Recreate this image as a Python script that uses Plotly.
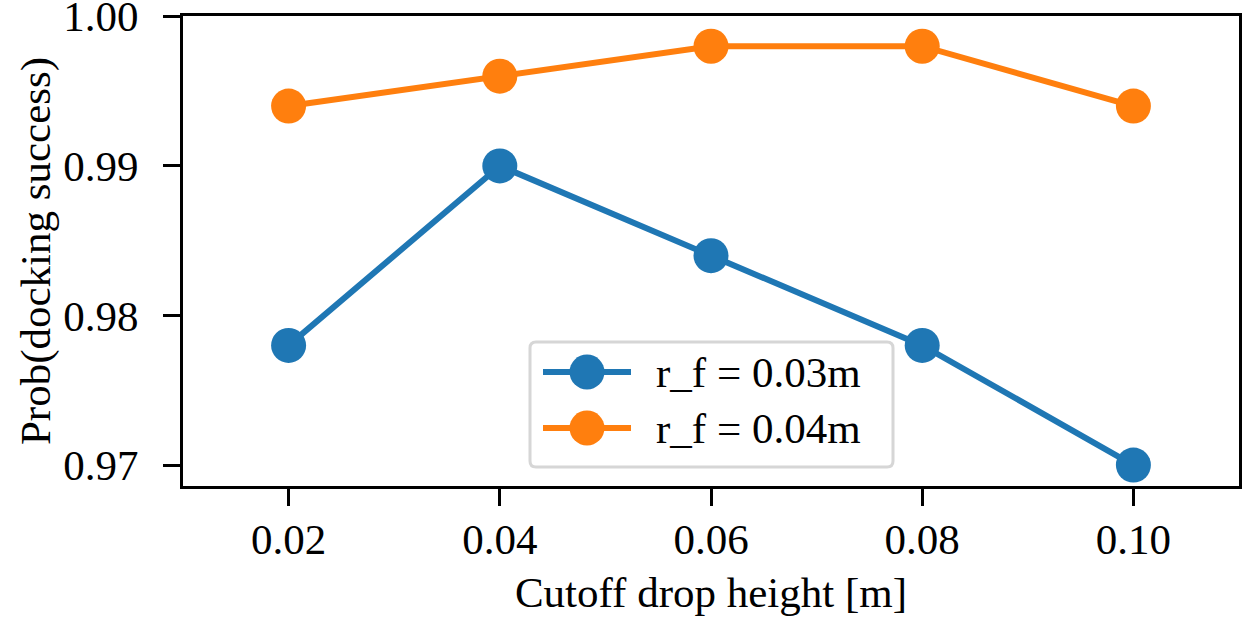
import plotly.graph_objects as go

cutoff = [0.02, 0.04, 0.06, 0.08, 0.10]
rf_003 = [0.978, 0.990, 0.984, 0.978, 0.970]
rf_004 = [0.994, 0.996, 0.998, 0.998, 0.994]
series_names = ["r_f = 0.03m", "r_f = 0.04m"]
series_colors = ["#1f77b4", "#ff7f0e"]
x_ticks = [0.02, 0.04, 0.06, 0.08, 0.10]
x_ticktext = ["0.02", "0.04", "0.06", "0.08", "0.10"]
y_ticks = [0.97, 0.98, 0.99, 1.00]
y_ticktext = ["0.97", "0.98", "0.99", "1.00"]

FONT = "Liberation Serif"
FS = 43
W, H = 1246, 620
# plot area in page pixels: x 183..1239, y 16..486
ML, MT = 183, 16
MR = W - 1239
MB = H - 486
PW, PH = W - ML - MR, H - MT - MB


def px(x):
    return (x - ML) / PW


def py(y):
    return (H - MB - y) / PH


fig = go.Figure()
for y, name, color in zip([rf_003, rf_004], series_names, series_colors):
    fig.add_trace(go.Scatter(
        x=cutoff, y=y, name=name, mode="lines+markers",
        line=dict(color=color, width=6),
        marker=dict(color=color, size=35),
        showlegend=False,
    ))

axis_common = dict(
    showline=True, linecolor="black", linewidth=3, mirror=True,
    ticks="outside", ticklen=17, tickwidth=3, tickcolor="black",
    showgrid=False, zeroline=False, automargin=False,
    ticklabeloverflow="allow",
    tickfont=dict(family=FONT, size=FS, color="black"),
)

shapes = []
annotations = []
bx0, bx1, by0, by1, r = 530, 893, 342, 467, 6
path = (f"M{px(bx0 + r)},{py(by0)} L{px(bx1 - r)},{py(by0)} "
        f"Q{px(bx1)},{py(by0)} {px(bx1)},{py(by0 + r)} "
        f"L{px(bx1)},{py(by1 - r)} Q{px(bx1)},{py(by1)} {px(bx1 - r)},{py(by1)} "
        f"L{px(bx0 + r)},{py(by1)} Q{px(bx0)},{py(by1)} {px(bx0)},{py(by1 - r)} "
        f"L{px(bx0)},{py(by0 + r)} Q{px(bx0)},{py(by0)} {px(bx0 + r)},{py(by0)} Z")
shapes.append(dict(type="path", xref="paper", yref="paper", path=path,
                   fillcolor="rgba(255,255,255,0.85)", line=dict(color="#d6d6d6", width=3),
                   layer="above"))
for i, (name, color) in enumerate(zip(series_names, series_colors)):
    yc = 372 + 56 * i
    shapes.append(dict(type="line", xref="paper", yref="paper",
                       x0=px(543), x1=px(631), y0=py(yc), y1=py(yc),
                       line=dict(color=color, width=6), layer="above"))
    shapes.append(dict(type="circle", xref="paper", yref="paper",
                       x0=px(587 - 17.5), x1=px(587 + 17.5),
                       y0=py(yc + 17.5), y1=py(yc - 17.5),
                       fillcolor=color, line=dict(color=color, width=0), layer="above"))
    annotations.append(dict(xref="paper", yref="paper", x=px(654), y=py(yc),
                            xanchor="left", yanchor="middle", showarrow=False,
                            text=name, font=dict(family=FONT, size=FS, color="black")))

fig.update_layout(
    width=W, height=H,
    margin=dict(l=ML, r=MR, t=MT, b=MB),
    paper_bgcolor="white", plot_bgcolor="white",
    font=dict(family=FONT, size=FS, color="black"),
    xaxis=dict(range=[0.01, 0.11], tickvals=x_ticks, ticktext=x_ticktext,
               ticklabelstandoff=-4,
               title=dict(text="Cutoff drop height [m]", standoff=16,
                          font=dict(family=FONT, size=FS)),
               **axis_common),
    yaxis=dict(range=[0.9686, 1.00002], tickvals=y_ticks, ticktext=y_ticktext,
               ticklabelstandoff=16,
               title=dict(text="Prob(docking success)", standoff=0,
                          font=dict(family=FONT, size=FS)),
               **axis_common),
    shapes=shapes,
    annotations=annotations,
    showlegend=False,
)

fig.write_html("out.html", config={"displayModeBar": False},
               post_script="document.body.style.margin='0px';document.body.style.overflow='hidden';")
